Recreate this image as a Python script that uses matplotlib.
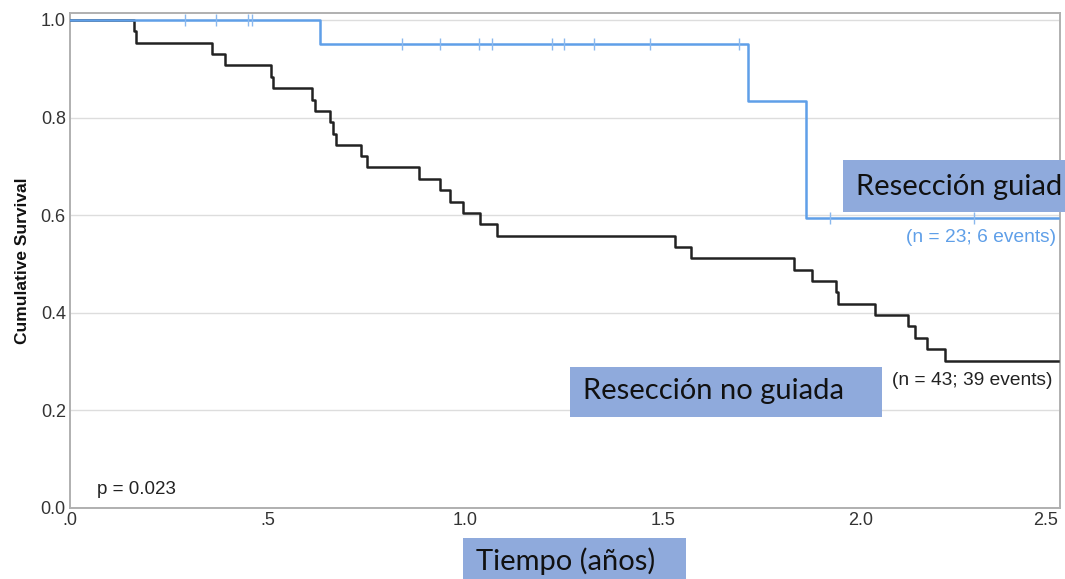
import numpy as np
import matplotlib
matplotlib.use("Agg")
import matplotlib.pyplot as plt
from matplotlib.patches import Rectangle

# ---------------- data ----------------
times_no_guiada = [0, 0.162, 0.166, 0.360, 0.393, 0.508, 0.513, 0.613, 0.621, 0.657, 0.665,
                   0.673, 0.736, 0.751, 0.884, 0.937, 0.962, 0.994, 1.038, 1.080, 1.532,
                   1.572, 1.831, 1.878, 1.937, 1.943, 2.038, 2.121, 2.137, 2.169, 2.213, 2.5]
surv_no_guiada = [1.0, 0.977, 0.953, 0.930, 0.907, 0.884, 0.860, 0.837, 0.814, 0.791, 0.767,
                  0.744, 0.721, 0.698, 0.674, 0.651, 0.628, 0.605, 0.581, 0.558, 0.535,
                  0.512, 0.488, 0.465, 0.442, 0.419, 0.395, 0.372, 0.349, 0.326, 0.302, 0.302]

times_guiada = [0, 0.633, 1.716, 1.863, 2.5]
surv_guiada = [1.0, 0.950, 0.833, 0.595, 0.595]
censor_guiada = [0.291, 0.370, 0.451, 0.460, 0.840, 0.935, 1.034, 1.067, 1.219, 1.251,
                 1.325, 1.468, 1.692, 1.922, 2.287]

yticks = [0.0, 0.2, 0.4, 0.6, 0.8, 1.0]
ytick_labels = ["0.0", "0.2", "0.4", "0.6", "0.8", "1.0"]
xticks = [0.0, 0.5, 1.0, 1.5, 2.0, 2.5]
xtick_labels = [".0", ".5", "1.0", "1.5", "2.0", "2.5"]

label_guiada = "Resección guiad"
label_no_guiada = "Resección no guiada"
xlabel = "Tiempo (años)"
ylabel = "Cumulative Survival"
n_guiada = "(n = 23; 6 events)"
n_no_guiada = "(n = 43; 39 events)"
p_text = "p = 0.023"

# ---------------- figure ----------------
W, H = 1065, 579
fig = plt.figure(figsize=(W / 100, H / 100), dpi=100)
fig.patch.set_facecolor("white")

def fx(px):
    return px / W

def fy(py):
    return 1 - py / H

ax = fig.add_axes([fx(70), fy(508), fx(1060) - fx(70), fy(13) - fy(508)])
ax.set_xlim(0, 2.505)
ax.set_ylim(0, 1.0143)

blue = "#5f9fe8"
black = "#222222"

ax.step(times_no_guiada, surv_no_guiada, where="post", color=black, lw=1.8, zorder=3)
ax.step(times_guiada, surv_guiada, where="post", color=blue, lw=1.8, zorder=4)

tg = np.array(times_guiada)
sg = np.array(surv_guiada)
cens_y = [sg[np.searchsorted(tg, t, side="right") - 1] for t in censor_guiada]
ax.plot(censor_guiada, cens_y, linestyle="none", marker="|", markersize=8,
        markeredgewidth=1.0, color="#8ab8ee", zorder=5)

ax.set_yticks(yticks)
ax.set_yticklabels(ytick_labels)
ax.set_xticks(xticks)
ax.set_xticklabels(xtick_labels)
ax.tick_params(axis="both", length=0, labelsize=13, colors="#333333")
ax.tick_params(axis="y", pad=3)
ax.tick_params(axis="x", pad=3)
for lab in ax.get_xticklabels() + ax.get_yticklabels():
    lab.set_fontfamily("Liberation Sans")
ax.get_xticklabels()[-1].set_horizontalalignment("right")

ax.grid(axis="y", color="#dddddd", lw=1.0)
ax.set_axisbelow(True)
for s in ax.spines.values():
    s.set_color("#b0b0b0")
    s.set_linewidth(1.4)

ax.set_ylabel(ylabel, fontsize=12.5, fontweight="bold", family="Liberation Sans",
              color="#111111", labelpad=8)

ax.text(2.494, 0.555, n_guiada, color=blue, fontsize=13.8, family="Liberation Sans",
        ha="right", va="center")
ax.text(2.486, 0.262, n_no_guiada, color=black, fontsize=13.8, family="Liberation Sans",
        ha="right", va="center")
ax.text(0.068, 0.037, p_text, color=black, fontsize=13.5, family="Liberation Sans",
        ha="left", va="center")

box_color = "#8FAADC"

def label_box(x0, y0, x1, y1, text, tx, ty):
    fig.patches.append(Rectangle((fx(x0), fy(y1)), fx(x1) - fx(x0), fy(y0) - fy(y1),
                                 transform=fig.transFigure, facecolor=box_color,
                                 edgecolor="none", zorder=10))
    fig.text(fx(tx), fy(ty), text, fontsize=21, family="Lato", color="#111111",
             ha="left", va="center", zorder=11)

label_box(843, 160, 1065, 212, label_guiada, 856, 187)
label_box(570, 367, 882, 417, label_no_guiada, 583, 391)
label_box(463, 538, 686, 579, xlabel, 476, 561)

fig.savefig("out.png", dpi=100)
